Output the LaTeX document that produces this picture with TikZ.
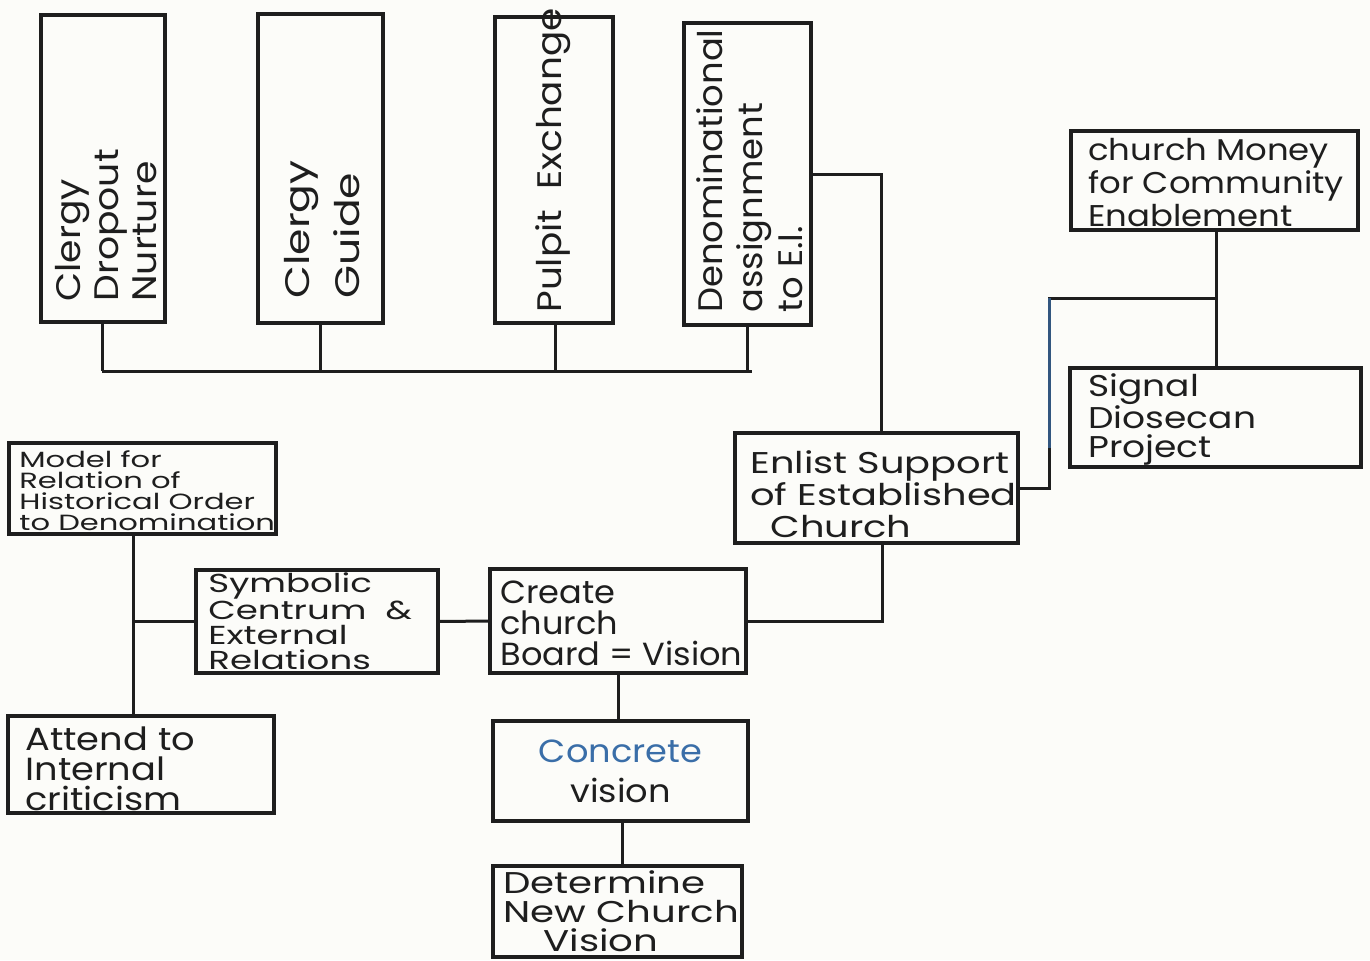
\documentclass[tikz,border=0pt]{standalone}
\usepackage{fontspec}
\setmainfont{Poppins}
\definecolor{paper}{HTML}{FCFCF9}
\definecolor{ink}{HTML}{1E1E1E}
\definecolor{pen}{HTML}{3A6EA8}
\newcommand{\handfont}[3]{\fontsize{#1}{#2}\selectfont\addfontfeatures{FakeStretch=#3}}
\begin{document}
\begin{tikzpicture}[x=0.5pt,y=-0.5pt,
  box/.style={draw=ink, line width=1.7pt, inner sep=0pt, outer sep=0pt, text=ink},
  lbl/.style={anchor=west, align=left, inner sep=0pt, text=ink},
  vt/.style={rotate=90, anchor=west, align=left, inner sep=0pt, text=ink},
  conn/.style={draw=ink, line width=1.5pt}]
\useasboundingbox (0,0) rectangle (1370,960);
\fill[paper] (0,0) rectangle (1370,960);

% top vertical boxes
\node[box, minimum width=62pt, minimum height=153.5pt] (b1) at (103,168.5) {};
\node[box, minimum width=62.5pt, minimum height=154.5pt] (b2) at (320.5,168.5) {};
\node[box, minimum width=59pt, minimum height=153pt] (b3) at (554,170) {};
\node[box, minimum width=63.5pt, minimum height=151pt] (b4) at (747.5,174) {};

\node[vt, font=\handfont{17}{19}{1.11}] (b1t) at (106,302) {Clergy\\Dropout\\Nurture};
\node[vt, font=\handfont{17}{25}{1.25}] (b2t) at (322,299) {Clergy\\Guide};
\node[vt, font=\handfont{17}{19}{1.1}] (b3t) at (553,313) {Pulpit\ \ Exchange};
\node[vt, font=\handfont{17}{20}{1.04}] (b4t) at (750,313) {Denominational\\assignment\\to E.I.};

% right side
\node[box, minimum width=143.5pt, minimum height=49.5pt] (money) at (1214.5,180.5) {};
\node[lbl, font=\handfont{15}{16.5}{1.13}] (moneyT) at ([xshift=8.5pt,yshift=-1pt]money.west)
  {church Money\\for Community\\Enablement};
\node[box, minimum width=145.5pt, minimum height=49.5pt] (signal) at (1215.5,417.5) {};
\node[lbl, font=\handfont{15}{14.5}{1.2}] (signalT) at ([xshift=9pt,yshift=-1pt]signal.west)
  {Signal\\Diosecan\\Project};
\node[box, minimum width=141.5pt, minimum height=55pt] (enlist) at (876.5,488) {};
\node[lbl, font=\handfont{15}{16}{1.28}] (enlistT) at ([xshift=7.5pt,yshift=-3pt]enlist.west)
  {Enlist Support\\of Established\\\hspace*{10pt}Church};

% left side
\node[box, minimum width=133.5pt, minimum height=45.5pt] (model) at (142.5,488.5) {};
\node[lbl, font=\handfont{11}{10.5}{1.39}] (modelT) at ([xshift=5pt,yshift=-1pt]model.west)
  {Model for\\Relation of\\Historical Order\\to Denomination};
\node[box, minimum width=121pt, minimum height=51.5pt] (symb) at (317,621.5) {};
\node[lbl, font=\handfont{13}{12.5}{1.37}] (symbT) at ([xshift=6pt]symb.west)
  {Symbolic\\Centrum \ \&\\External\\Relations};
\node[box, minimum width=133pt, minimum height=48.5pt] (attend) at (141,764.5) {};
\node[lbl, font=\handfont{16}{15}{1.15}] (attendT) at ([xshift=8.5pt,yshift=-2pt]attend.west)
  {Attend to\\Internal\\criticism};

% centre column
\node[box, minimum width=128pt, minimum height=52pt] (create) at (618,621) {};
\node[lbl, font=\handfont{16}{15.5}{1.05}] (createT) at ([xshift=5pt,yshift=-1pt]create.west)
  {Create\\church\\Board = Vision};
\node[box, align=center, minimum width=127.5pt, minimum height=50pt,
  font=\handfont{16}{20}{1.1}] (concrete) at (620.5,771)
  {\textcolor{pen}{Concrete}\\vision};
\node[box, minimum width=124.5pt, minimum height=45.5pt] (determine) at (617.5,911.5) {};
\node[lbl, font=\handfont{15}{14.5}{1.29}] (determineT) at ([xshift=5pt]determine.west)
  {Determine\\New Church\\\hspace*{20pt}Vision};

% connectors
\coordinate (busL) at (102,371);
\coordinate (busR) at (752,371);
\draw[conn] (busL) -- (busR);
\draw[conn] ([xshift=-0.5pt]b1.south) -- ([xshift=-0.5pt]b1.south |- busL);
\draw[conn] (b2.south) -- (b2.south |- busL);
\draw[conn] ([xshift=0.5pt]b3.south) -- ([xshift=0.5pt]b3.south |- busL);
\draw[conn] (b4.south) -- (b4.south |- busL);

\draw[conn] (b4.east) -| ([xshift=2.25pt]enlist.north);
\draw[conn] ([xshift=3pt]enlist.south) |- (create.east);
\draw[conn] (symb.east) -- (create.west);
\draw[conn] ([xshift=-4.75pt]model.south) -- ([xshift=-4.75pt]model.south |- attend.north);
\draw[conn] (symb.west) -- ([xshift=-4.75pt]model.south |- symb.west);
\draw[conn] (create.south) -- (create.south |- concrete.north);
\draw[conn] ([xshift=1pt]concrete.south) -- ([xshift=1pt]concrete.south |- determine.north);

\coordinate (tee) at ([xshift=0.75pt,yshift=-34pt]money.south);
\draw[conn] ([xshift=0.75pt]money.south) -- ([xshift=0.75pt]money.south |- signal.north);
\coordinate (corner) at ([xshift=-83.5pt]tee);
\draw[conn] (enlist.east) -| (corner) -- (tee);
\draw[conn, draw=pen!70!ink] (corner) -- ([yshift=-75pt]corner);
\end{tikzpicture}
\end{document}
